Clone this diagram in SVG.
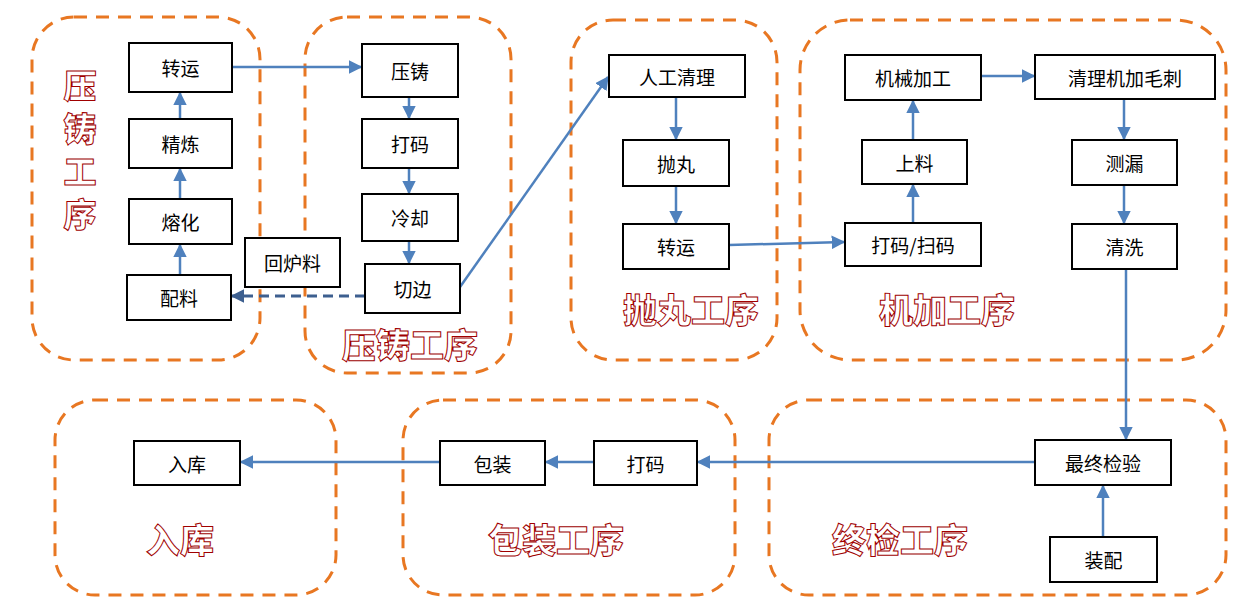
<svg xmlns="http://www.w3.org/2000/svg" width="1249" height="611" viewBox="0 0 1249 611">
<style>
.grp{fill:none;stroke:#E87722;stroke-width:3;stroke-dasharray:13,9}
.box{fill:#fff;stroke:#000;stroke-width:2}
.t{font-family:"Noto Sans CJK SC","Noto Sans",sans-serif;font-size:19px;fill:#000;text-anchor:middle;dominant-baseline:central}
.lbl{font-family:"Noto Sans CJK SC",sans-serif;font-weight:900;font-size:34px;fill:#fff;stroke:#A00000;stroke-width:1;text-anchor:middle}
.c{fill:none;stroke:#4F81BD;stroke-width:2.5}
.d{fill:none;stroke:#3D5F8F;stroke-width:3;stroke-dasharray:10,6}
</style>
<defs>
<marker id="a" viewBox="0 0 10 10" refX="9" refY="5" markerWidth="5.5" markerHeight="5.5" orient="auto" markerUnits="strokeWidth"><path d="M0,0L10,5L0,10z" fill="#4F81BD"/></marker>
<marker id="ad" viewBox="0 0 10 10" refX="9" refY="5" markerWidth="4.5" markerHeight="4.5" orient="auto" markerUnits="strokeWidth"><path d="M0,0L10,5L0,10z" fill="#3D5F8F"/></marker>
</defs>
<rect width="1249" height="611" fill="#fff"/>
<g id="groups">
<rect class="grp" x="32" y="17" width="228" height="343" rx="42"/>
<rect class="grp" x="305" y="17" width="206" height="356" rx="42"/>
<rect class="grp" x="571" y="20" width="206" height="340" rx="42"/>
<rect class="grp" x="800" y="20" width="426" height="340" rx="50"/>
<rect class="grp" x="55" y="400" width="281" height="195" rx="40"/>
<rect class="grp" x="403" y="400" width="332" height="195" rx="40"/>
<rect class="grp" x="769" y="400" width="457" height="195" rx="40"/>
</g>
<g id="labels">
<text class="lbl" x="80" y="155" style="writing-mode:vertical-rl;letter-spacing:10px;font-size:33px">压铸工序</text>
<text class="lbl" x="410" y="358">压铸工序</text>
<text class="lbl" x="691" y="323">抛丸工序</text>
<text class="lbl" x="947" y="323">机加工序</text>
<text class="lbl" x="900" y="553">终检工序</text>
<text class="lbl" x="180" y="553">入库</text>
<text class="lbl" x="556" y="553">包装工序</text>
</g>
<g id="connectors">
<line class="c" x1="232" y1="67" x2="361" y2="67" marker-end="url(#a)"/>
<line class="c" x1="180" y1="119" x2="180" y2="93" marker-end="url(#a)"/>
<line class="c" x1="180" y1="199" x2="180" y2="169" marker-end="url(#a)"/>
<line class="c" x1="180" y1="275" x2="180" y2="245" marker-end="url(#a)"/>
<line class="c" x1="409" y1="97" x2="409" y2="118" marker-end="url(#a)"/>
<line class="c" x1="409" y1="168" x2="409" y2="193" marker-end="url(#a)"/>
<line class="c" x1="409" y1="241" x2="409" y2="263" marker-end="url(#a)"/>
<line class="d" x1="365" y1="296" x2="232" y2="296" marker-end="url(#ad)"/>
<line class="c" x1="460" y1="287" x2="608" y2="77" marker-end="url(#a)"/>
<line class="c" x1="676" y1="97" x2="676" y2="139" marker-end="url(#a)"/>
<line class="c" x1="676" y1="186" x2="676" y2="223" marker-end="url(#a)"/>
<line class="c" x1="729" y1="245" x2="844" y2="242" marker-end="url(#a)"/>
<line class="c" x1="913" y1="223" x2="913" y2="185" marker-end="url(#a)"/>
<line class="c" x1="913" y1="140" x2="913" y2="101" marker-end="url(#a)"/>
<line class="c" x1="981" y1="76" x2="1034" y2="76" marker-end="url(#a)"/>
<line class="c" x1="1124" y1="99" x2="1124" y2="139" marker-end="url(#a)"/>
<line class="c" x1="1124" y1="185" x2="1124" y2="223" marker-end="url(#a)"/>
<line class="c" x1="1126" y1="269" x2="1126" y2="439" marker-end="url(#a)"/>
<line class="c" x1="1103" y1="537" x2="1103" y2="486" marker-end="url(#a)"/>
<line class="c" x1="1035" y1="462" x2="698" y2="462" marker-end="url(#a)"/>
<line class="c" x1="594" y1="462" x2="546" y2="462" marker-end="url(#a)"/>
<line class="c" x1="440" y1="462" x2="241" y2="462" marker-end="url(#a)"/>
</g>
<g id="n-zhuanyun1"><rect class="box" x="129" y="43" width="103" height="49"/><text class="t" x="180.5" y="67.5">转运</text></g>
<g id="n-jinglian"><rect class="box" x="129" y="119" width="103" height="49"/><text class="t" x="180.5" y="143.5">精炼</text></g>
<g id="n-ronghua"><rect class="box" x="129" y="199" width="103" height="45"/><text class="t" x="180.5" y="221.5">熔化</text></g>
<g id="n-peiliao"><rect class="box" x="127" y="275" width="104" height="45"/><text class="t" x="179" y="297.5">配料</text></g>
<g id="n-huiluliao"><rect class="box" x="245" y="238" width="95" height="49"/><text class="t" x="292.5" y="262.5">回炉料</text></g>
<g id="n-yazhu"><rect class="box" x="362" y="44" width="96" height="53"/><text class="t" x="410" y="70.5">压铸</text></g>
<g id="n-dama1"><rect class="box" x="362" y="119" width="96" height="49"/><text class="t" x="410" y="143.5">打码</text></g>
<g id="n-lengque"><rect class="box" x="362" y="194" width="96" height="47"/><text class="t" x="410" y="217.5">冷却</text></g>
<g id="n-qiebian"><rect class="box" x="365" y="264" width="95" height="49"/><text class="t" x="412.5" y="288.5">切边</text></g>
<g id="n-rengong"><rect class="box" x="609" y="55" width="136" height="42"/><text class="t" x="677" y="76">人工清理</text></g>
<g id="n-paowan"><rect class="box" x="623" y="140" width="106" height="46"/><text class="t" x="676" y="163">抛丸</text></g>
<g id="n-zhuanyun2"><rect class="box" x="623" y="224" width="106" height="45"/><text class="t" x="676" y="246.5">转运</text></g>
<g id="n-jixie"><rect class="box" x="845" y="55" width="136" height="45"/><text class="t" x="913" y="77.5">机械加工</text></g>
<g id="n-shangliao"><rect class="box" x="862" y="140" width="105" height="44"/><text class="t" x="914.5" y="162">上料</text></g>
<g id="n-saoma"><rect class="box" x="845" y="223" width="136" height="43"/><text class="t" x="913" y="244.5">打码/扫码</text></g>
<g id="n-maoci"><rect class="box" x="1035" y="55" width="180" height="44"/><text class="t" x="1125" y="77">清理机加毛刺</text></g>
<g id="n-celou"><rect class="box" x="1072" y="140" width="105" height="45"/><text class="t" x="1124.5" y="162.5">测漏</text></g>
<g id="n-qingxi"><rect class="box" x="1072" y="224" width="105" height="45"/><text class="t" x="1124.5" y="246.5">清洗</text></g>
<g id="n-zuizhong"><rect class="box" x="1035" y="440" width="136" height="45"/><text class="t" x="1103" y="462.5">最终检验</text></g>
<g id="n-zhuangpei"><rect class="box" x="1050" y="537" width="107" height="45"/><text class="t" x="1103.5" y="559.5">装配</text></g>
<g id="n-dama2"><rect class="box" x="594" y="441" width="103" height="44"/><text class="t" x="645.5" y="463">打码</text></g>
<g id="n-baozhuang"><rect class="box" x="440" y="441" width="105" height="44"/><text class="t" x="492.5" y="463">包装</text></g>
<g id="n-ruku"><rect class="box" x="134" y="441" width="106" height="44"/><text class="t" x="187" y="463">入库</text></g>
</svg>
